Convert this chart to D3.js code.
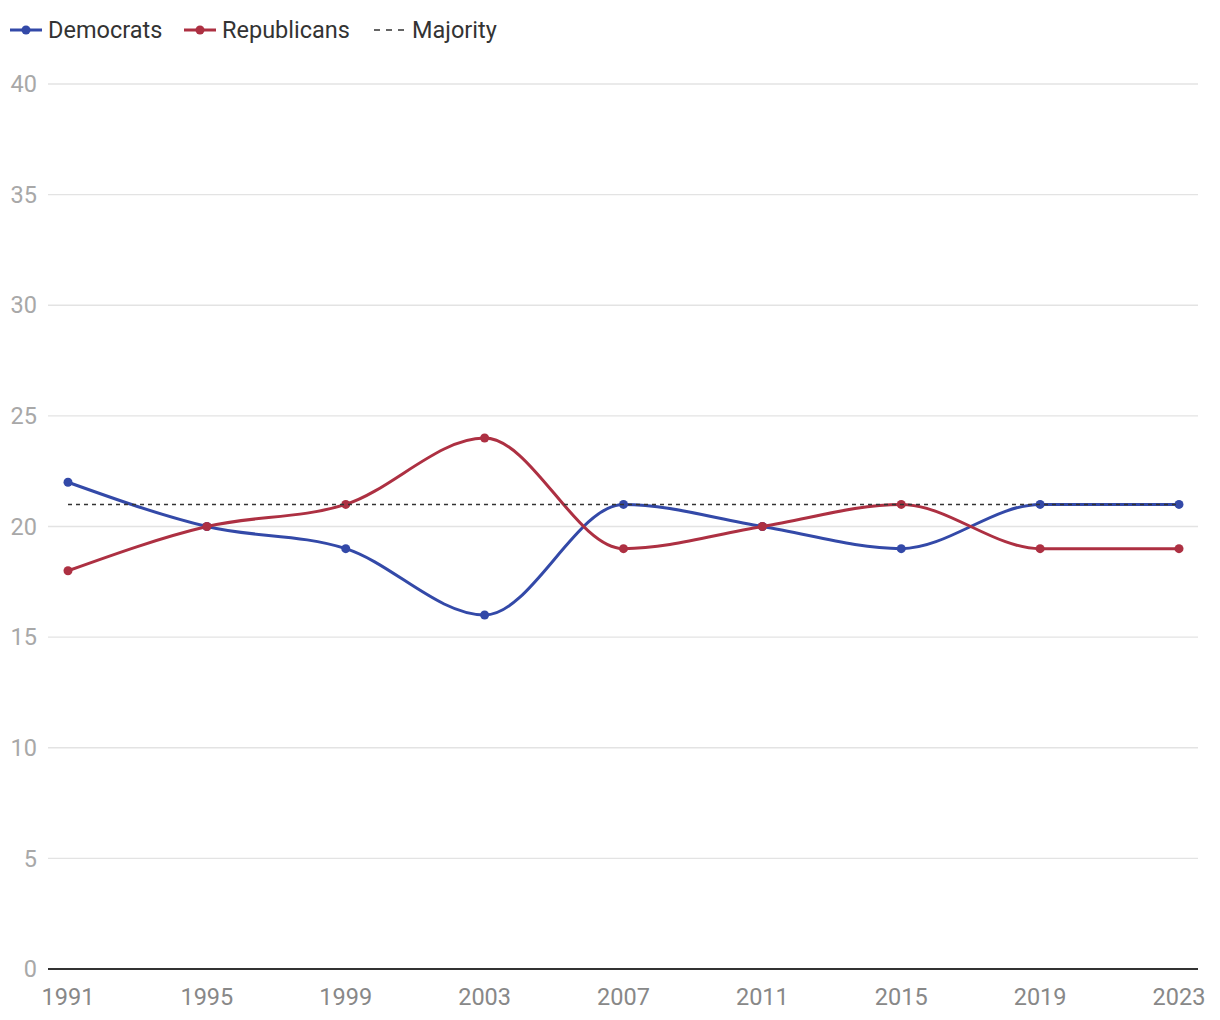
<!DOCTYPE html>
<html><head><meta charset="utf-8">
<script src="https://cdn.jsdelivr.net/npm/d3@7"></script>
<style>
body{margin:0;background:#fff;font-family:Roboto,sans-serif;}
</style></head>
<body><svg id="c" width="1220" height="1020"></svg>
<script>
const years = [1991,1995,1999,2003,2007,2011,2015,2019,2023];
const democrats = [22,20,19,16,21,20,19,21,21];
const republicans = [18,20,21,24,19,20,21,19,19];
const majority = 21;
const yTicks = [0,5,10,15,20,25,30,35,40];
const seriesNames = ["Democrats","Republicans","Majority"];
const colors = {Democrats:"#3349a8", Republicans:"#ad3042", Majority:"#333"};

const svg = d3.select("#c");
const x = d3.scalePoint().domain(years).range([68,1179]);
const y = d3.scaleLinear().domain([0,40]).range([969,84]);

svg.append("g").selectAll("line").data(yTicks.filter(d=>d>0)).join("line")
  .attr("x1",48).attr("x2",1198).attr("y1",d=>y(d)).attr("y2",d=>y(d))
  .attr("stroke","#e3e3e3").attr("stroke-width",1.3);
svg.append("g").selectAll("text").data(yTicks).join("text")
  .attr("x",37).attr("y",d=>y(d)).attr("dy","0.35em").attr("text-anchor","end")
  .attr("font-size",23.5).attr("fill","#a8a8a8").text(d=>d);
svg.append("line").attr("x1",48).attr("x2",1198).attr("y1",y(0)).attr("y2",y(0))
  .attr("stroke","#333").attr("stroke-width",2);
svg.append("g").selectAll("text").data(years).join("text")
  .attr("x",d=>x(d)).attr("y",1005).attr("text-anchor","middle")
  .attr("font-size",23.5).attr("fill","#888").text(d=>d);

const line = d3.line().x((d,i)=>x(years[i])).y(d=>y(d)).curve(d3.curveMonotoneX);
[["Democrats",democrats],["Republicans",republicans]].forEach(([name,vals])=>{
  svg.append("path").attr("d",line(vals)).attr("fill","none")
    .attr("stroke",colors[name]).attr("stroke-width",3);
  svg.append("g").selectAll("circle").data(vals).join("circle")
    .attr("cx",(d,i)=>x(years[i])).attr("cy",d=>y(d)).attr("r",4.5).attr("fill",colors[name]);
});
svg.append("line").attr("x1",x(years[0])).attr("x2",x(years[years.length-1]))
  .attr("y1",y(majority)).attr("y2",y(majority))
  .attr("stroke","#333").attr("stroke-width",1.5).attr("stroke-dasharray","4,4");

const lg = svg.append("g");
const lx = [10,184,374];
seriesNames.forEach((n,i)=>{
  const g = lg.append("g").attr("transform",`translate(${lx[i]},30)`);
  if(n==="Majority"){
    g.append("line").attr("x1",0).attr("x2",32).attr("stroke","#333").attr("stroke-width",1.5).attr("stroke-dasharray","6,6");
  } else {
    g.append("line").attr("x1",0).attr("x2",32).attr("stroke",colors[n]).attr("stroke-width",3);
    g.append("circle").attr("cx",16).attr("r",4.5).attr("fill",colors[n]);
  }
  g.append("text").attr("x",38).attr("dy","0.35em").attr("font-size",23.5).attr("fill","#333").text(n);
});
</script></body></html>
